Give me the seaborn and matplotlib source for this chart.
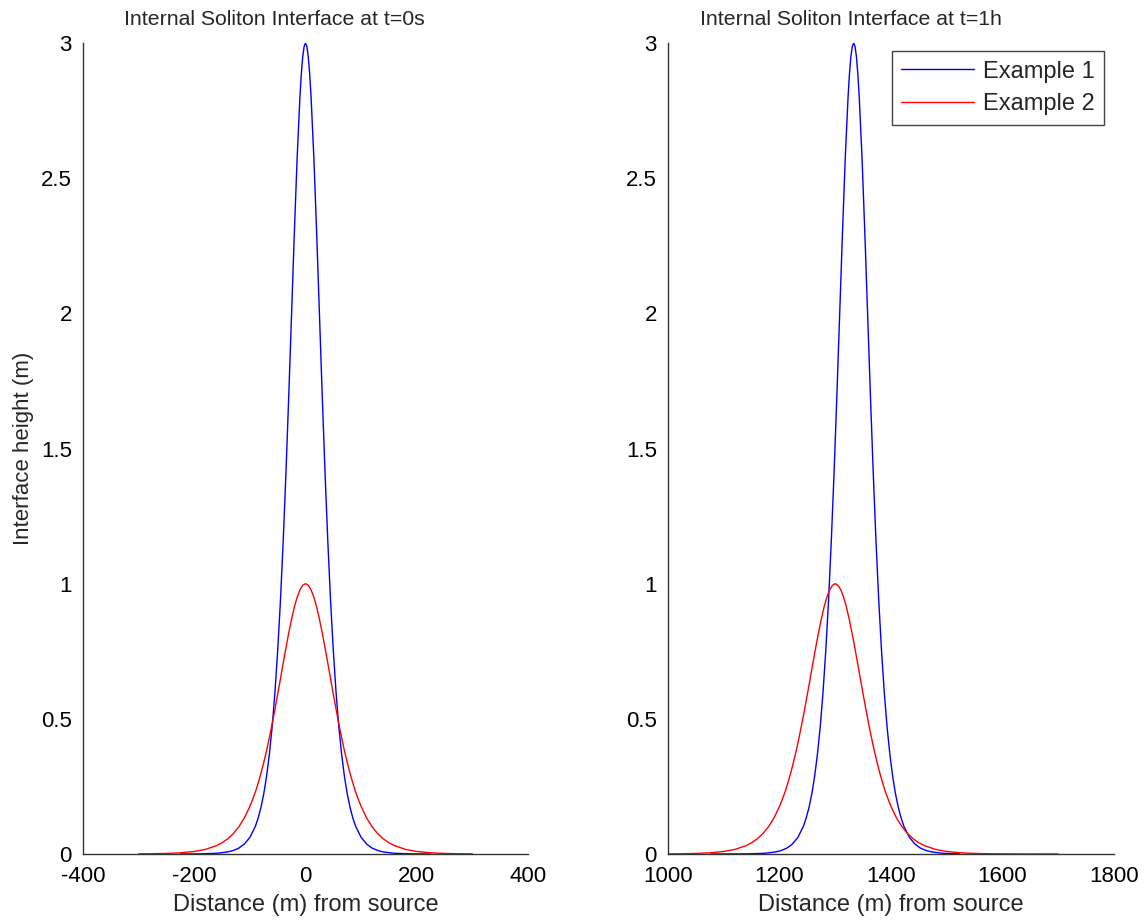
import matplotlib
matplotlib.use("Agg")
import matplotlib.pyplot as plt
import seaborn as sns
import pandas as pd

# ---------------- data ----------------
# Left panel: t = 0 s
left_blue_x = [-225, -190, -160, -140, -130, -120, -110, -100, -90, -85, -80, -75, -70, -65,
               -60, -55, -50, -45, -40, -35, -30, -25, -20, -15, -10, -7.5, -5, -2.5,
               0,
               2.5, 5, 7.5, 10, 15, 20, 25, 30, 35, 40, 45, 50, 55, 60, 65, 70, 75, 80, 85,
               90, 100, 110, 120, 130, 140, 160, 190, 225]
left_blue_y = [0.0001, 0.0005, 0.0026, 0.0076, 0.0128, 0.0216, 0.0365, 0.0615, 0.103, 0.134,
               0.173, 0.223, 0.287, 0.368, 0.469, 0.596, 0.752, 0.939, 1.162, 1.417, 1.701,
               2.001, 2.301, 2.577, 2.801, 2.886, 2.949, 2.987,
               3.000,
               2.987, 2.949, 2.886, 2.801, 2.577, 2.301, 2.001, 1.701, 1.417, 1.162, 0.939,
               0.752, 0.596, 0.469, 0.368, 0.287, 0.223, 0.173, 0.134, 0.103, 0.0615, 0.0365,
               0.0216, 0.0128, 0.0076, 0.0026, 0.0005, 0.0001]

left_red_x = [-300, -275, -250, -225, -200, -180, -160, -150, -140, -130, -120, -110, -100,
              -95, -90, -85, -80, -75, -70, -65, -60, -55, -50, -45, -40, -35, -30, -25,
              -20, -15, -10, -5,
              0,
              5, 10, 15, 20, 25, 30, 35, 40, 45, 50, 55, 60, 65, 70, 75, 80, 85, 90, 95,
              100, 110, 120, 130, 140, 150, 160, 180, 200, 225, 250, 275, 300]
left_red_y = [0.0005, 0.0010, 0.0021, 0.0044, 0.0093, 0.0170, 0.0309, 0.0416, 0.0559, 0.0749,
              0.100, 0.133, 0.176, 0.202, 0.230, 0.263, 0.299, 0.339, 0.382, 0.430, 0.481,
              0.535, 0.591, 0.649, 0.707, 0.764, 0.819, 0.869, 0.914, 0.950, 0.977, 0.994,
              1.000,
              0.994, 0.977, 0.950, 0.914, 0.869, 0.819, 0.764, 0.707, 0.649, 0.591, 0.535,
              0.481, 0.430, 0.382, 0.339, 0.299, 0.263, 0.230, 0.202, 0.176, 0.133, 0.100,
              0.0749, 0.0559, 0.0416, 0.0309, 0.0170, 0.0093, 0.0044, 0.0021, 0.0010, 0.0005]

# Right panel: t = 1 h
right_blue_x = [1077, 1143, 1173, 1193, 1203, 1213, 1223, 1233, 1243, 1248, 1253, 1258, 1263,
                1268, 1273, 1278, 1283, 1288, 1293, 1298, 1303, 1308, 1313, 1318, 1323,
                1325.5, 1328, 1330.5,
                1333,
                1335.5, 1338, 1340.5, 1343, 1348, 1353, 1358, 1363, 1368, 1373, 1378, 1383,
                1388, 1393, 1398, 1403, 1408, 1413, 1418, 1423, 1433, 1443, 1453, 1463, 1473,
                1493, 1523]
right_blue_y = [0.0000, 0.0005, 0.0026, 0.0076, 0.0128, 0.0216, 0.0365, 0.0615, 0.103, 0.134,
                0.173, 0.223, 0.287, 0.368, 0.469, 0.596, 0.752, 0.939, 1.162, 1.417, 1.701,
                2.001, 2.301, 2.577, 2.801, 2.886, 2.949, 2.987,
                3.000,
                2.987, 2.949, 2.886, 2.801, 2.577, 2.301, 2.001, 1.701, 1.417, 1.162, 0.939,
                0.752, 0.596, 0.469, 0.368, 0.287, 0.223, 0.173, 0.134, 0.103, 0.0615, 0.0365,
                0.0216, 0.0128, 0.0076, 0.0026, 0.0005]

right_red_x = [1000, 1025, 1050, 1075, 1100, 1120, 1140, 1150, 1160, 1170, 1180, 1190, 1200,
               1205, 1210, 1215, 1220, 1225, 1230, 1235, 1240, 1245, 1250, 1255, 1260, 1265,
               1270, 1275, 1280, 1285, 1290, 1295,
               1300,
               1305, 1310, 1315, 1320, 1325, 1330, 1335, 1340, 1345, 1350, 1355, 1360, 1365,
               1370, 1375, 1380, 1385, 1390, 1395, 1400, 1410, 1420, 1430, 1440, 1450, 1460,
               1480, 1500, 1525, 1550, 1575, 1600, 1650, 1700]
right_red_y = [0.0005, 0.0010, 0.0021, 0.0044, 0.0093, 0.0170, 0.0309, 0.0416, 0.0559, 0.0749,
               0.100, 0.133, 0.176, 0.202, 0.230, 0.263, 0.299, 0.339, 0.382, 0.430, 0.481,
               0.535, 0.591, 0.649, 0.707, 0.764, 0.819, 0.869, 0.914, 0.950, 0.977, 0.994,
               1.000,
               0.994, 0.977, 0.950, 0.914, 0.869, 0.819, 0.764, 0.707, 0.649, 0.591, 0.535,
               0.481, 0.430, 0.382, 0.339, 0.299, 0.263, 0.230, 0.202, 0.176, 0.133, 0.100,
               0.0749, 0.0559, 0.0416, 0.0309, 0.0170, 0.0093, 0.0044, 0.0021, 0.0010, 0.0005,
               0.0001, 0.0000]

series_names = ["Example 1", "Example 2"]
titles = ["Internal Soliton Interface at t=0s", "Internal Soliton Interface at t=1h"]
left_xticks = [-400, -200, 0, 200, 400]
right_xticks = [1000, 1200, 1400, 1600, 1800]
yticks = [0, 0.5, 1, 1.5, 2, 2.5, 3]
ytick_labels = ["0", "0.5", "1", "1.5", "2", "2.5", "3"]
xlabel = "Distance (m) from source"
ylabel = "Interface height (m)"

# ---------------- styling ----------------
sns.set_style("white")
plt.rcParams["font.family"] = ["Liberation Sans", "DejaVu Sans"]
plt.rcParams["axes.unicode_minus"] = False

TICK_FS = 16
TITLE_FS = 15.3
LABEL_FS = 17
palette = {"Example 1": "#0000ff", "Example 2": "#ff0000"}


def make_df(bx, by, rx, ry):
    return pd.concat([
        pd.DataFrame({"distance": bx, "height": by, "series": series_names[0]}),
        pd.DataFrame({"distance": rx, "height": ry, "series": series_names[1]}),
    ], ignore_index=True)


df_left = make_df(left_blue_x, left_blue_y, left_red_x, left_red_y)
df_right = make_df(right_blue_x, right_blue_y, right_red_x, right_red_y)

fig = plt.figure(figsize=(11.46, 9.22), dpi=100)
W, H = 1146, 922
ax_l = fig.add_axes([83 / W, (H - 854) / H, 445 / W, 811 / H])
ax_r = fig.add_axes([668 / W, (H - 854) / H, 446 / W, 811 / H])

for ax, df, xt, xl, title, tx in [
    (ax_l, df_left, left_xticks, (-400, 400), titles[0], 0.43),
    (ax_r, df_right, right_xticks, (1000, 1800), titles[1], 0.41),
]:
    sns.lineplot(data=df, x="distance", y="height", hue="series",
                 hue_order=series_names, palette=palette, estimator=None,
                 sort=False, linewidth=1.0, ax=ax, legend=(ax is ax_r))
    ax.set_xlim(*xl)
    ax.set_ylim(0, 3)
    ax.set_xticks(xt)
    ax.set_xticklabels([str(v) for v in xt])
    ax.set_yticks(yticks)
    ax.set_yticklabels(ytick_labels)
    ax.tick_params(direction="in", length=8, width=0.8, colors="#222222",
                   labelcolor="black", labelsize=TICK_FS)
    ax.tick_params(axis="y", pad=8)
    ax.tick_params(axis="x", pad=8.5)
    for side in ["top", "right"]:
        ax.spines[side].set_visible(False)
    for side in ["left", "bottom"]:
        ax.spines[side].set_color("#333333")
        ax.spines[side].set_linewidth(1.0)
    ax.set_title(title, fontsize=TITLE_FS, x=tx, pad=13)
    ax.set_xlabel(xlabel, fontsize=LABEL_FS, labelpad=5)
    ax.set_ylabel("")

ax_l.set_ylabel(ylabel, fontsize=LABEL_FS - 1, labelpad=5)

leg = ax_r.legend(loc="upper right", bbox_to_anchor=(0.977, 0.99), borderaxespad=0,
                  fontsize=17, frameon=True, fancybox=False, framealpha=1,
                  edgecolor="#444444", handlelength=3.1, handletextpad=0.35,
                  borderpad=0.4, labelspacing=0.45)
leg.get_frame().set_linewidth(1.0)

fig.savefig("out.png", dpi=100)
